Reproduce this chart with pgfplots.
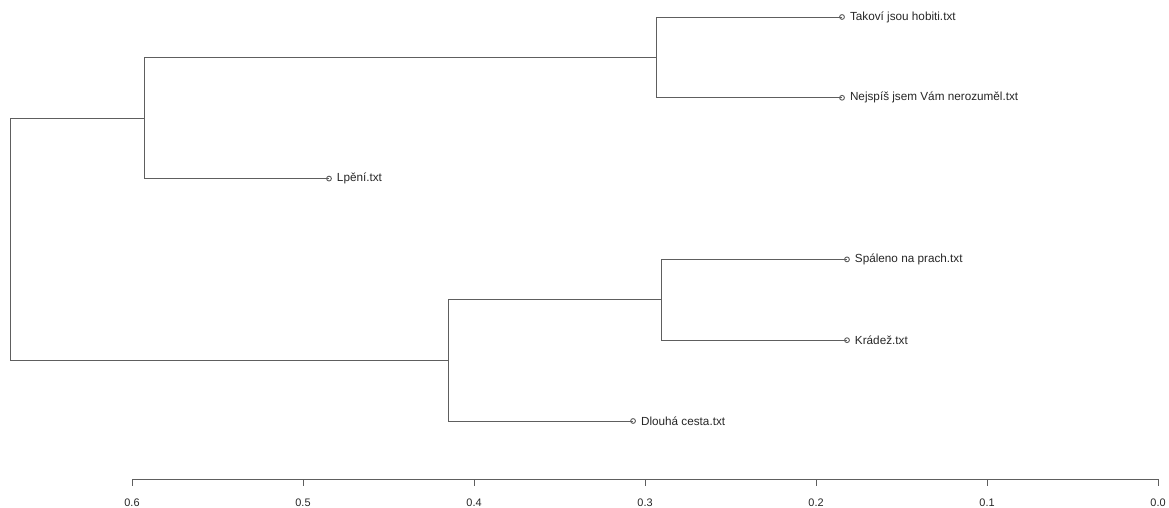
\documentclass[border=0pt]{standalone}
\usepackage{pgfplots}
\pgfplotsset{compat=1.18}
\usepackage{fontspec}
\setmainfont{Liberation Sans}
\definecolor{lnc}{HTML}{5E5E5E}
\definecolor{txc}{HTML}{262626}
\begin{document}
\begin{tikzpicture}
\begin{axis}[
  at={(0,0)}, anchor=south west,
  scale only axis, width=876.75pt, height=359.25pt,
  x dir=reverse,
  xmin=-0.0064, xmax=0.6772, ymin=0.282, ymax=6.21,
  clip=false,
  axis y line=none,
  axis x line*=bottom,
  x axis line style={draw=none},
  xtick={0,0.1,0.2,0.3,0.4,0.5,0.6},
  xticklabels={0.0,0.1,0.2,0.3,0.4,0.5,0.6},
  tick align=outside, major tick length=5pt,
  x tick style={lnc, line width=0.7pt},
  xticklabel style={font=\fontsize{8.2}{9}\selectfont, text=txc, yshift=-6pt},
  /pgf/number format/assume math mode=true,
]
% axis line
\draw[lnc, line width=0.7pt] (axis cs:0.6,0.282) -- (axis cs:0,0.282);
% links
\addplot[lnc, line width=0.7pt] coordinates {(0.1848,6) (0.2936,6) (0.2936,5) (0.1848,5)};
\addplot[lnc, line width=0.7pt] coordinates {(0.2936,5.5) (0.593,5.5) (0.593,4) (0.4848,4)};
\addplot[lnc, line width=0.7pt] coordinates {(0.1819,3) (0.2906,3) (0.2906,2) (0.1819,2)};
\addplot[lnc, line width=0.7pt] coordinates {(0.2906,2.5) (0.4152,2.5) (0.4152,1) (0.307,1)};
\addplot[lnc, line width=0.7pt] coordinates {(0.593,4.75) (0.6713,4.75) (0.6713,1.75) (0.4152,1.75)};
% leaves
\addplot[only marks, mark=o, mark size=1.8pt, mark options={lnc, line width=0.7pt},
  nodes near coords, point meta=explicit symbolic,
  every node near coord/.append style={anchor=west, xshift=2.3pt, font=\fontsize{8.8}{10}\selectfont, text=txc}]
  coordinates {
  (0.1848,6) [Takoví jsou hobiti.txt]
  (0.1848,5) [Nejspíš jsem Vám nerozuměl.txt]
  (0.4848,4) [Lpění.txt]
  (0.1819,3) [Spáleno na prach.txt]
  (0.1819,2) [Krádež.txt]
  (0.307,1) [Dlouhá cesta.txt]
  };
\end{axis}
\pgfresetboundingbox
\path (0,-21pt) rectangle (876.75pt,359.25pt);
\end{tikzpicture}
\end{document}
